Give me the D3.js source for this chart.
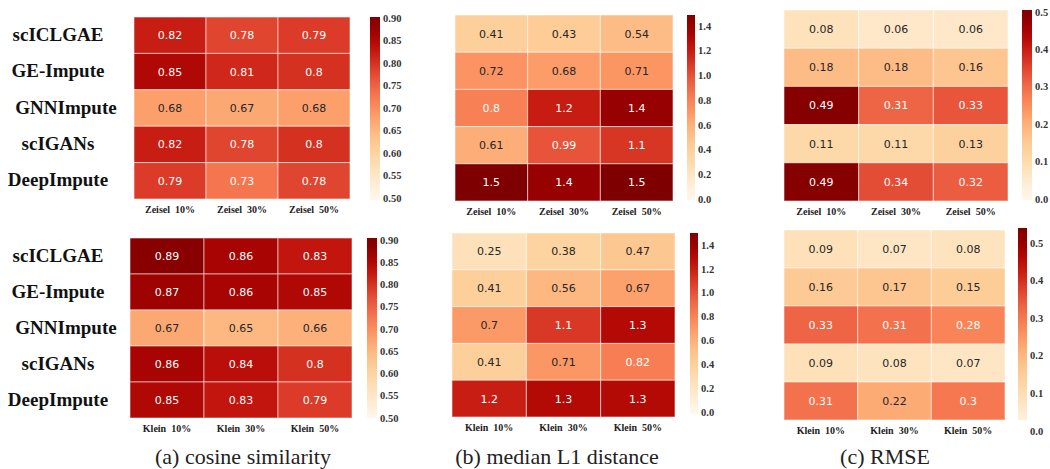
<!DOCTYPE html>
<html>
<head>
<meta charset="utf-8">
<script src="https://cdn.jsdelivr.net/npm/d3@7"></script>
<style>
  body { margin: 0; background: #fff; }
  svg { display: block; }
  .rowlab { font-family: 'Liberation Serif', 'Times New Roman', serif; font-weight: bold; font-size: 19px; fill: #111; }
  .collab { font-family: 'Liberation Serif', 'Times New Roman', serif; font-weight: bold; font-size: 10px; fill: #222; white-space: pre; }
  .tick { font-family: 'Liberation Serif', 'Times New Roman', serif; font-weight: bold; font-size: 10.5px; fill: #333; }
  .cell { font-family: 'DejaVu Sans', sans-serif; font-size: 11px; }
  .caption { font-family: 'Liberation Serif', 'Times New Roman', serif; font-size: 22px; fill: #222; }
</style>
</head>
<body>
<div id="chart"></div>
<script>
var methods = ['scICLGAE', 'GE-Impute', 'GNNImpute', 'scIGANs', 'DeepImpute']
var zeiselCols = ['Zeisel  10%', 'Zeisel  30%', 'Zeisel  50%']
var kleinCols = ['Klein  10%', 'Klein  30%', 'Klein  50%']

var cosZeisel = [[0.82, 0.78, 0.79], [0.85, 0.81, 0.8], [0.68, 0.67, 0.68], [0.82, 0.78, 0.8], [0.79, 0.73, 0.78]]
var cosKlein = [[0.89, 0.86, 0.83], [0.87, 0.86, 0.85], [0.67, 0.65, 0.66], [0.86, 0.84, 0.8], [0.85, 0.83, 0.79]]
var l1Zeisel = [[0.41, 0.43, 0.54], [0.72, 0.68, 0.71], [0.8, 1.2, 1.4], [0.61, 0.99, 1.1], [1.5, 1.4, 1.5]]
var l1Klein = [[0.25, 0.38, 0.47], [0.41, 0.56, 0.67], [0.7, 1.1, 1.3], [0.41, 0.71, 0.82], [1.2, 1.3, 1.3]]
var rmseZeisel = [[0.08, 0.06, 0.06], [0.18, 0.18, 0.16], [0.49, 0.31, 0.33], [0.11, 0.11, 0.13], [0.49, 0.34, 0.32]]
var rmseKlein = [[0.09, 0.07, 0.08], [0.16, 0.17, 0.15], [0.33, 0.31, 0.28], [0.09, 0.08, 0.07], [0.31, 0.22, 0.3]]

var cosTicks = [0.5, 0.55, 0.6, 0.65, 0.7, 0.75, 0.8, 0.85, 0.9]
var l1Ticks = [0, 0.2, 0.4, 0.6, 0.8, 1.0, 1.2, 1.4]
var rmseTicks = [0, 0.1, 0.2, 0.3, 0.4, 0.5]

var captions = ['(a) cosine similarity', '(b) median L1 distance', '(c) RMSE']

var svg = d3.select('#chart').append('svg').attr('width', 1050).attr('height', 469)

// one entry per heatmap: box, colour range, colourbar and where its ticks sit
var panels = [
  {data: cosZeisel, cols: zeiselCols, box: [134, 350, 17, 199], cmap: [0.5, 0.9],
    cb: [370, 10, 17, 200], ticks: cosTicks, tickPx: [198, 18], fmt: '.2f', labels: true},
  {data: cosKlein, cols: kleinCols, box: [130, 352, 238, 418], cmap: [0.5, 0.9],
    cb: [367, 10, 238, 418], ticks: cosTicks, tickPx: [418, 240], fmt: '.2f', labels: true},
  {data: l1Zeisel, cols: zeiselCols, box: [455, 673, 15, 201], cmap: [0, 1.49],
    cb: [687, 8, 15, 200], ticks: l1Ticks, tickPx: [199, 26], fmt: '.1f'},
  {data: l1Klein, cols: kleinCols, box: [452, 675, 233, 417], cmap: [0, 1.5],
    cb: [690, 8, 233, 414], ticks: l1Ticks, tickPx: [412, 245], fmt: '.1f'},
  {data: rmseZeisel, cols: zeiselCols, box: [784, 1008, 10, 201], cmap: [0, 0.5],
    cb: [1022, 10, 10, 200], ticks: rmseTicks, tickPx: [199, 12], fmt: '.1f'},
  {data: rmseKlein, cols: kleinCols, box: [784, 1005, 230, 420], cmap: [0, 0.53],
    cb: [1018, 9, 228, 420], ticks: rmseTicks, tickPx: [431, 243], fmt: '.1f'}
]

function lum(c){
  var rgb = d3.rgb(c)
  var f = function(v){ v = v / 255; return v <= 0.03928 ? v / 12.92 : Math.pow((v + 0.055) / 1.055, 2.4) }
  return 0.2126 * f(rgb.r) + 0.7152 * f(rgb.g) + 0.0722 * f(rgb.b)
}

panels.forEach(function(p, pi){
  var g = svg.append('g')
  var x = d3.scaleBand().domain(d3.range(3)).range([p.box[0], p.box[1]])
  var y = d3.scaleBand().domain(d3.range(5)).range([p.box[2], p.box[3]])
  var color = d3.scaleSequential(d3.interpolateOrRd).domain(p.cmap)

  var cells = []
  p.data.forEach(function(row, i){ row.forEach(function(v, j){ cells.push({i: i, j: j, v: v}) }) })

  g.selectAll('rect.c').data(cells).join('rect')
    .attr('x', function(d){ return x(d.j) }).attr('y', function(d){ return y(d.i) })
    .attr('width', x.bandwidth()).attr('height', y.bandwidth())
    .attr('fill', function(d){ return color(d.v) })
    .attr('stroke', 'rgba(255,255,255,0.55)').attr('stroke-width', 1)

  g.selectAll('text.cell').data(cells).join('text').attr('class', 'cell')
    .attr('x', function(d){ return x(d.j) + x.bandwidth() / 2 })
    .attr('y', function(d){ return y(d.i) + y.bandwidth() / 2 })
    .attr('text-anchor', 'middle').attr('dy', '0.36em')
    .attr('fill', function(d){ return lum(color(d.v)) > 0.408 ? '#262626' : '#fff' })
    .text(function(d){ return d.v })

  g.selectAll('text.collab').data(p.cols).join('text').attr('class', 'collab')
    .attr('x', function(d, j){ return x(j) + x.bandwidth() / 2 })
    .attr('y', p.box[3] + 14).attr('text-anchor', 'middle')
    .text(function(d){ return d })

  if (p.labels){
    g.selectAll('text.rowlab').data(methods).join('text').attr('class', 'rowlab')
      .attr('x', function(d){ return d == 'GNNImpute' ? 66 : 58 })
      .attr('y', function(d, i){ return y(i) + y.bandwidth() / 2 - 1 })
      .attr('text-anchor', 'middle').attr('dy', '0.35em')
      .text(function(d){ return d })
  }

  // colourbar
  var tick = d3.scaleLinear().domain([p.ticks[0], p.ticks[p.ticks.length - 1]]).range(p.tickPx)
  var cb = p.cb
  var grad = svg.append('defs').append('linearGradient').attr('id', 'cb' + pi)
    .attr('x1', 0).attr('x2', 0).attr('y1', 1).attr('y2', 0)
  d3.range(0, 1.001, 0.05).forEach(function(t){
    var v = tick.invert(cb[3] + t * (cb[2] - cb[3]))
    grad.append('stop').attr('offset', t).attr('stop-color', color(v))
  })
  g.append('rect').attr('x', cb[0]).attr('y', cb[2]).attr('width', cb[1]).attr('height', cb[3] - cb[2])
    .attr('fill', 'url(#cb' + pi + ')')

  g.selectAll('text.tick').data(p.ticks).join('text').attr('class', 'tick')
    .attr('x', cb[0] + cb[1] + 3).attr('y', function(d){ return tick(d) })
    .attr('dy', '0.35em')
    .text(d3.format(p.fmt))
})

svg.selectAll('text.caption').data(captions).join('text').attr('class', 'caption')
  .attr('x', function(d, i){ return [243, 557, 885][i] }).attr('y', 464)
  .attr('text-anchor', 'middle')
  .text(function(d){ return d })
</script>
</body>
</html>
